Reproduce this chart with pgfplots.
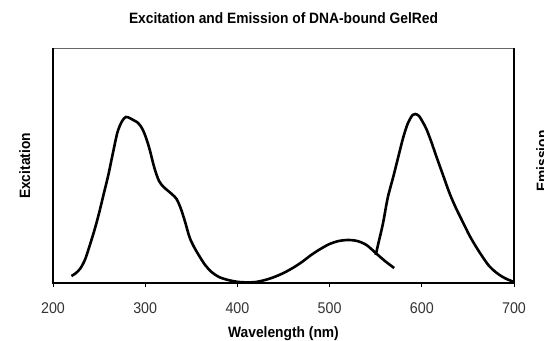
\documentclass[border=0pt]{standalone}
\usepackage{fontspec}
\newfontfamily\arialn{Liberation Sans}[FakeStretch=0.92]
\usepackage{pgfplots}
\pgfplotsset{compat=1.18}
\definecolor{ticktext}{HTML}{333333}
\definecolor{topline}{HTML}{666666}
\begin{document}
\begin{tikzpicture}
\useasboundingbox (-53bp,-58bp) rectangle (491bp,283bp);
\begin{axis}[
  name=ax,
  at={(0,0)}, anchor=south west,
  scale only axis,
  width=461bp, height=234bp,
  xmin=200, xmax=700, ymin=0, ymax=234,
  axis line style={draw=none},
  xtick={200,300,400,500,600,700},
  ytick=\empty,
  xtick pos=bottom,
  tick align=outside,
  major tick length=4bp,
  every tick/.style={black, line width=0.9bp},
  /pgf/number format/assume math mode=true,
  xticklabel style={font=\arialn\fontsize{15.5bp}{18bp}\selectfont, text=ticktext, inner sep=0pt, anchor=north, yshift=-15bp},
  clip=false,
]
% Excitation
\addplot[black, line width=2.6bp, smooth, tension=0.5] coordinates {
(220,7) (225,10) (230,15) (235,24) (240,38) (245,53) (250,70) (255,89)
(260,108) (265,130) (270,151) (275,162) (279,166) (283,165) (287,163)
(291,161) (295,157) (298,152) (301,145) (305,133) (310,115) (315,102)
(320,96) (325,92) (330,88) (334,84) (338,76) (343,62) (348,46) (353,36)
(358,28) (365,18) (372,11) (380,6) (390,3) (400,1.2) (410,0.6) (420,1)
(430,3) (440,6) (450,10) (460,15) (470,21) (480,28) (490,34) (500,39)
(510,42) (520,43) (530,42) (540,38) (550,30) (560,22) (570,15)
};
% Emission
\addplot[black, line width=2.6bp, smooth, tension=0.5] coordinates {
(550,28) (553,40) (558,60) (563,85) (569,106) (575,128) (580,146)
(585,160) (590,168) (593,169) (597,167) (601,161) (605,154) (610,142)
(616,126) (623,108) (630,90) (637,75) (645,60) (652,47) (659,36)
(666,26) (673,17) (680,11) (686,7) (692,4) (700,1)
};
\draw[topline, line width=1bp] (rel axis cs:0,1) -- (rel axis cs:1,1);
\draw[black, line width=2bp, line cap=rect] (rel axis cs:0,1) -- (rel axis cs:0,0) -- (rel axis cs:1,0) -- (rel axis cs:1,1);
\end{axis}
\node[font=\arialn\bfseries\fontsize{15bp}{18bp}\selectfont, anchor=base, inner sep=0pt] at ([yshift=25bp]ax.north) {Excitation and Emission of DNA-bound GelRed};
\node[font=\arialn\bfseries\fontsize{15bp}{18bp}\selectfont, anchor=base, inner sep=0pt] at ([yshift=-54.5bp]ax.south) {Wavelength (nm)};
\node[font=\arialn\bfseries\fontsize{15bp}{18bp}\selectfont, rotate=90, anchor=base, inner sep=0pt] at ([xshift=-23bp]ax.west) {Excitation};
\node[font=\arialn\bfseries\fontsize{15bp}{18bp}\selectfont, rotate=90, anchor=north, inner sep=0pt] at ([xshift=22bp,yshift=5bp]ax.east) {Emission};
\end{tikzpicture}
\end{document}
